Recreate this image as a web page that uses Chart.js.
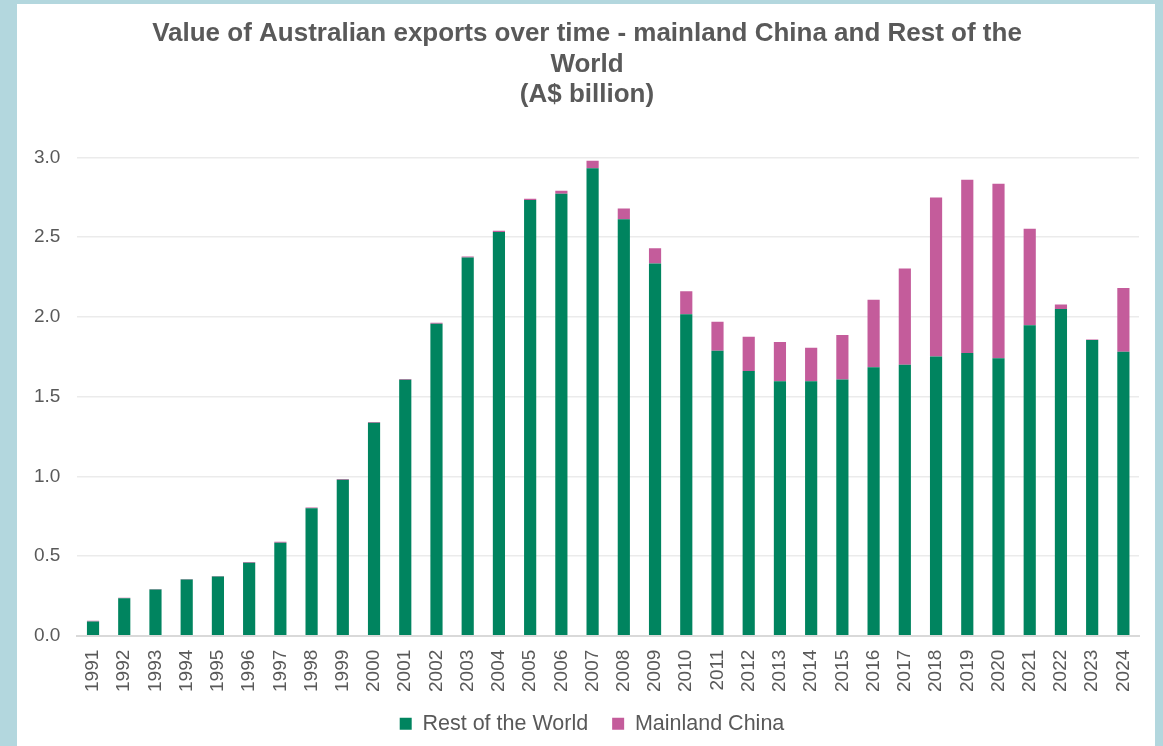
<!DOCTYPE html>
<html>
<head>
<meta charset="utf-8">
<script src="https://cdn.jsdelivr.net/npm/chart.js@4.4.1/dist/chart.umd.min.js"></script>
<style>
  html, body { margin: 0; padding: 0; background: #b3d7de; width: 1163px; height: 746px; overflow: hidden; }
  #panel { position: absolute; left: 17px; top: 4px; width: 1138px; height: 742px; background: #ffffff; }
  #c { display: block; }
</style>
</head>
<body>
<div id="panel"><canvas id="c" width="1138" height="742"></canvas></div>
<script>
const years = ['1991','1992','1993','1994','1995','1996','1997','1998','1999','2000','2001','2002','2003','2004','2005','2006','2007','2008','2009','2010','2011','2012','2013','2014','2015','2016','2017','2018','2019','2020','2021','2022','2023','2024'];
const restOfWorld = [0.090,0.235,0.290,0.352,0.372,0.458,0.583,0.800,0.978,1.336,1.605,1.957,2.372,2.533,2.733,2.772,2.933,2.613,2.335,2.017,1.787,1.661,1.596,1.596,1.607,1.684,1.700,1.751,1.774,1.740,1.948,2.050,1.855,1.782];
const mainlandChina = [0.004,0.003,0.003,0.004,0.003,0.004,0.007,0.005,0.005,0.005,0.006,0.007,0.007,0.007,0.008,0.019,0.046,0.067,0.095,0.144,0.182,0.214,0.247,0.210,0.280,0.423,0.603,0.998,1.086,1.095,0.605,0.028,0.003,0.400];
const titleLines = ['Value of Australian exports over time - mainland China and Rest of the', 'World', '(A$ billion)'];
const yTicks = [0, 0.5, 1.0, 1.5, 2.0, 2.5, 3.0];

const FONT = "'Liberation Sans', Arial, sans-serif";
const TEXT = '#595959';
const LEGEND_HEIGHT = 40;
const LEGEND_SHIFT_Y = -17;
const LEGEND_SHIFT_X = 14;
const TITLE_SHIFT_X = 9;

const boxTweak = {
  id: 'boxTweak',
  beforeLayout(chart) {
    const lg = chart.legend;
    if (lg && !lg._tweaked) {
      lg._tweaked = true;
      const fit = lg.fit.bind(lg);
      lg.fit = function () { fit(); this.height = LEGEND_HEIGHT; };
      const draw = lg.draw.bind(lg);
      lg.draw = function () {
        const saved = { top: this.top, bottom: this.bottom, left: this.left, right: this.right };
        this.top += LEGEND_SHIFT_Y;
        this.bottom = this.chart.height;
        this.left += LEGEND_SHIFT_X;
        this.right += LEGEND_SHIFT_X;
        draw();
        Object.assign(this, saved);
      };
    }
    const tb = chart.titleBlock;
    if (tb && !tb._tweaked) {
      tb._tweaked = true;
      const tdraw = tb.draw.bind(tb);
      tb.draw = function () {
        const saved = { left: this.left, right: this.right };
        this.left += TITLE_SHIFT_X;
        this.right += TITLE_SHIFT_X;
        tdraw();
        Object.assign(this, saved);
      };
    }
  }
};

new Chart(document.getElementById('c'), {
  type: 'bar',
  data: {
    labels: years,
    datasets: [
      { label: 'Rest of the World', data: restOfWorld, backgroundColor: '#00845f', borderWidth: 0 },
      { label: 'Mainland China', data: mainlandChina, backgroundColor: '#c45c9b', borderWidth: 0 }
    ]
  },
  plugins: [boxTweak],
  options: {
    responsive: false,
    animation: false,
    devicePixelRatio: 1,
    layout: { padding: { left: 0, right: 16, top: 0, bottom: 0 } },
    datasets: { bar: { categoryPercentage: 1.0, barPercentage: 0.39 } },
    plugins: {
      tooltip: { enabled: false },
      title: {
        display: true,
        text: titleLines,
        color: TEXT,
        font: { family: FONT, size: 26, weight: 'bold', lineHeight: 1.173 },
        padding: { top: 15, bottom: 47 }
      },
      legend: {
        position: 'bottom',
        labels: {
          color: TEXT,
          font: { family: FONT, size: 21.5 },
          boxWidth: 12,
          boxHeight: 12,
          padding: 24
        }
      }
    },
    scales: {
      x: {
        stacked: true,
        grid: { display: false, drawTicks: false },
        border: { display: true, color: '#d9d9d9', width: 2 },
        afterFit: (scale) => { scale.paddingRight = 0; },
        ticks: {
          color: TEXT,
          font: { family: FONT, size: 19 },
          minRotation: 90,
          maxRotation: 90,
          autoSkip: false,
          padding: 14
        }
      },
      y: {
        stacked: true,
        min: 0,
        max: 3.0,
        afterBuildTicks: (axis) => { axis.ticks = yTicks.map(v => ({ value: v })); },
        grid: { color: '#ebebeb', lineWidth: 1.5, drawTicks: false },
        border: { display: false },
        ticks: {
          color: TEXT,
          font: { family: FONT, size: 19 },
          padding: 17,
          callback: (v) => Number(v).toFixed(1)
        }
      }
    }
  }
});
</script>
</body>
</html>
